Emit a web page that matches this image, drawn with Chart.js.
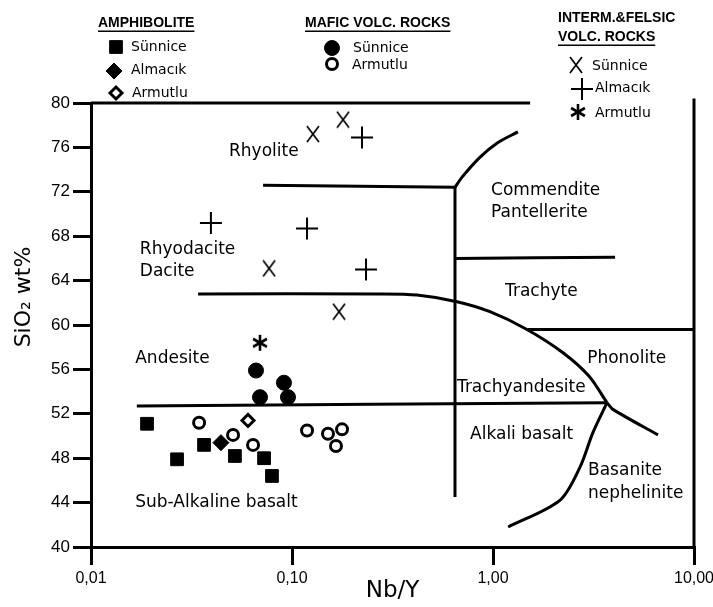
<!DOCTYPE html>
<html>
<head>
<meta charset="utf-8">
<title>Nb/Y vs SiO2</title>
<script src="https://cdn.jsdelivr.net/npm/chart.js@4.4.0/dist/chart.umd.min.js"></script>
<style>
  html, body { margin: 0; padding: 0; background: #fff; }
  #wrap { width: 713px; height: 607px; }
</style>
</head>
<body>
<div id="wrap"><canvas id="chart" width="713" height="607"></canvas></div>
<script>
// samples, [Nb/Y, SiO2 wt%]
const amphSunnice = [[0.0190, 51.1], [0.0268, 47.9], [0.0365, 49.2], [0.0520, 48.2], [0.0726, 48.0], [0.0795, 46.4]];
const amphAlmacik = [[0.0443, 49.4]];
const amphArmutlu = [[0.0604, 51.4]];
const maficSunnice = [[0.0662, 55.9], [0.0693, 53.5], [0.0912, 54.8], [0.0955, 53.5]];
const maficArmutlu = [[0.0345, 51.2], [0.0509, 50.1], [0.0640, 49.2], [0.1188, 50.5], [0.151, 50.2], [0.1774, 50.6], [0.1655, 49.1]];
const felsicSunnice = [[0.1271, 77.2], [0.1794, 78.5], [0.0769, 65.1], [0.1714, 61.2]];
const felsicAlmacik = [[0.2230, 76.9], [0.0395, 69.2], [0.1188, 68.7], [0.2335, 65.0]];
const felsicArmutlu = [[0.0693, 58.4]];

// field boundaries (Winchester & Floyd diagram)
const lineTop = [[0.01, 80], [1.53, 80]];
const lineRhyolite = [[0.0718, 72.6], [0.647, 72.4]];
const lineCommendite = [[0.647, 72.4], [0.70, 73.3], [0.86, 75.1], [1.05, 76.4], [1.33, 77.4]];
const lineVertical = [[0.647, 72.4], [0.647, 44.5]];
const lineTrachyteTop = [[0.647, 66.0], [4.05, 66.1]];
const lineAndesiteTop = [[0.0341, 62.8], [0.274, 62.8], [0.419, 62.7], [0.662, 62.1], [0.966, 61.2], [1.476, 59.6], [2.23, 57.5], [3.0, 55.4], [3.69, 53.0]];
const linePhonolite = [[1.49, 59.6], [10, 59.6]];
const lineBasalt = [[0.0169, 52.7], [3.69, 53.0]];
const lineBasanite = [[3.69, 53.0], [3.95, 52.4], [6.62, 50.1]];
const lineAlkali = [[3.69, 53.0], [3.14, 50.3], [2.71, 47.2], [2.15, 44.2], [1.19, 41.8]];
const lineRight = [[10, 40], [10, 80.4]];

const xTicks = [0.01, 0.1, 1, 10];
const xTickLabels = ['0,01', '0,10', '1,00', '10,00'];

const regionLabels = [
  ['Rhyolite', 0.0486, 75.6],
  ['Rhyodacite', 0.0175, 66.8],
  ['Dacite', 0.0175, 64.8],
  ['Andesite', 0.0166, 57.0],
  ['Sub-Alkaline basalt', 0.0166, 44.0],
  ['Commendite', 0.978, 72.1],
  ['Pantellerite', 0.978, 70.1],
  ['Trachyte', 1.148, 63.0],
  ['Phonolite', 2.94, 57.0],
  ['Trachyandesite', 0.662, 54.4],
  ['Alkali basalt', 0.769, 50.1],
  ['Basanite', 2.97, 46.9],
  ['nephelinite', 2.97, 44.8]
];

const FONT = "'DejaVu Sans', 'Liberation Sans', sans-serif";
const TICK_FONT = "'Liberation Sans', Arial, sans-serif";
const HEAD_FONT = "bold 14px 'Liberation Sans', Arial, sans-serif";

const pts = a => a.map(([x, y]) => ({ x, y }));

function markX() {
  const c = document.createElement('canvas');
  c.width = 14; c.height = 18;
  const g = c.getContext('2d');
  g.strokeStyle = '#000';
  g.lineWidth = 1.7;
  g.beginPath();
  g.moveTo(1, 1); g.lineTo(13, 17);
  g.moveTo(13, 1); g.lineTo(1, 17);
  g.stroke();
  return c;
}

function markStar() {
  const c = document.createElement('canvas');
  c.width = 18; c.height = 18;
  const g = c.getContext('2d');
  g.strokeStyle = '#000';
  g.lineWidth = 2.6;
  for (let i = 0; i < 3; i++) {
    const a = Math.PI / 2 + i * Math.PI / 3;
    const dx = 8 * Math.cos(a), dy = 8 * Math.sin(a);
    g.beginPath();
    g.moveTo(9 + dx, 9 + dy);
    g.lineTo(9 - dx, 9 - dy);
    g.stroke();
  }
  return c;
}

const X_IMG = markX();
const STAR_IMG = markStar();

function pointSet(label, data, style) {
  return Object.assign({
    label, data: pts(data), showLine: false,
    borderColor: '#000', backgroundColor: '#000', borderWidth: 1
  }, style);
}

function boundary(data) {
  return {
    data: pts(data), showLine: true, pointRadius: 0, borderColor: '#000',
    borderWidth: 3, tension: 0.3, clip: false, fill: false
  };
}

const datasets = [
  pointSet('amph Sünnice', amphSunnice, { pointStyle: 'rect', pointRadius: 9 }),
  pointSet('amph Almacık', amphAlmacik, { pointStyle: 'rectRot', pointRadius: 8 }),
  pointSet('amph Armutlu', amphArmutlu, { pointStyle: 'rectRot', pointRadius: 6, backgroundColor: '#fff', borderWidth: 3 }),
  pointSet('mafic Sünnice', maficSunnice, { pointStyle: 'circle', pointRadius: 7.5 }),
  pointSet('mafic Armutlu', maficArmutlu, { pointStyle: 'circle', pointRadius: 5.5, backgroundColor: '#fff', borderWidth: 3 }),
  pointSet('felsic Sünnice', felsicSunnice, { pointStyle: X_IMG, pointRadius: 8 }),
  pointSet('felsic Almacık', felsicAlmacik, { pointStyle: 'cross', pointRadius: 11, borderWidth: 2 }),
  pointSet('felsic Armutlu', felsicArmutlu, { pointStyle: STAR_IMG, pointRadius: 8 }),
  boundary(lineTop), boundary(lineRhyolite), boundary(lineCommendite), boundary(lineVertical),
  boundary(lineTrachyteTop), boundary(lineAndesiteTop), boundary(linePhonolite), boundary(lineBasalt),
  boundary(lineBasanite), boundary(lineAlkali), boundary(lineRight)
];

// legend groups point at dataset indexes above
const legendGroups = [
  { title: ['AMPHIBOLITE'], x: 98, y: 23, items: [[0, 116, 47, 131, 47, 'Sünnice'], [1, 114, 71, 131, 70, 'Almacık'], [2, 116, 93, 132, 93, 'Armutlu']] },
  { title: ['MAFIC VOLC. ROCKS'], x: 305, y: 23, items: [[3, 332, 48, 353, 48, 'Sünnice'], [4, 332, 64, 352, 65, 'Armutlu']] },
  { title: ['INTERM.&FELSIC', 'VOLC. ROCKS'], x: 558, y: 18, items: [[5, 576, 65, 592, 66, 'Sünnice'], [6, 582, 89, 595, 88, 'Almacık'], [7, 578, 112, 595, 113, 'Armutlu']] }
];

const decor = {
  id: 'decor',
  afterDraw(chart) {
    const { ctx, scales: { x, y } } = chart;
    ctx.save();
    ctx.fillStyle = '#000';

    // field names
    ctx.font = '17px ' + FONT;
    ctx.textAlign = 'left';
    ctx.textBaseline = 'middle';
    regionLabels.forEach(([t, vx, vy]) => {
      ctx.fillText(t, x.getPixelForValue(vx), y.getPixelForValue(vy));
    });

    // y title, sits a bit above the axis centre in the original
    ctx.save();
    ctx.translate(24, 297);
    ctx.rotate(-Math.PI / 2);
    ctx.textAlign = 'center';
    ctx.font = '22px ' + FONT;
    ctx.fillText('SiO₂ wt%', 0, 0);
    ctx.restore();

    // legend
    legendGroups.forEach(g => {
      ctx.font = HEAD_FONT;
      ctx.textAlign = 'left';
      ctx.textBaseline = 'middle';
      g.title.forEach((t, i) => ctx.fillText(t, g.x, g.y + i * 19));
      const last = g.title[g.title.length - 1];
      const uy = g.y + (g.title.length - 1) * 19 + 7.5;
      ctx.fillRect(g.x, uy, ctx.measureText(last).width, 1.5);

      ctx.font = '14px ' + FONT;
      g.items.forEach(([di, px, py, tx, ty, text]) => {
        const ds = chart.data.datasets[di];
        ctx.fillStyle = ds.backgroundColor;
        ctx.strokeStyle = ds.borderColor;
        ctx.lineWidth = ds.borderWidth;
        Chart.helpers.drawPoint(ctx, { pointStyle: ds.pointStyle, radius: ds.pointRadius, borderWidth: ds.borderWidth, rotation: 0 }, px, py);
        ctx.fillStyle = '#000';
        ctx.fillText(text, tx, ty);
      });
    });
    ctx.restore();
  }
};

new Chart(document.getElementById('chart'), {
  type: 'scatter',
  data: { datasets },
  plugins: [decor],
  options: {
    responsive: false,
    animation: false,
    devicePixelRatio: 1,
    layout: { padding: { left: 0, top: 103, right: 19, bottom: 0 } },
    plugins: { legend: { display: false }, tooltip: { enabled: false } },
    scales: {
      x: {
        type: 'logarithmic',
        min: 0.01,
        max: 10,
        afterBuildTicks: s => { s.ticks = xTicks.map(v => ({ value: v })); },
        afterFit: s => { s.height = 60; s.paddingLeft = 0; s.paddingRight = 0; },
        ticks: {
          autoSkip: false,
          maxRotation: 0,
          padding: 4,
          color: '#000',
          font: { family: TICK_FONT, size: 16 },
          callback: (v, i) => xTickLabels[i]
        },
        grid: { drawOnChartArea: false, tickLength: 18, lineWidth: 3, color: '#000' },
        border: { display: true, color: '#000', width: 3 },
        title: { display: true, text: 'Nb/Y', color: '#000', font: { family: FONT, size: 23 }, padding: { top: 0, bottom: 2 } }
      },
      y: {
        min: 40,
        max: 80,
        afterFit: s => { s.width = 91; },
        ticks: { stepSize: 4, padding: 3, color: '#000', font: { family: TICK_FONT, size: 17 } },
        grid: { drawOnChartArea: false, tickLength: 18, lineWidth: 3, color: '#000' },
        border: { display: true, color: '#000', width: 3 }
      }
    }
  }
});
</script>
</body>
</html>
